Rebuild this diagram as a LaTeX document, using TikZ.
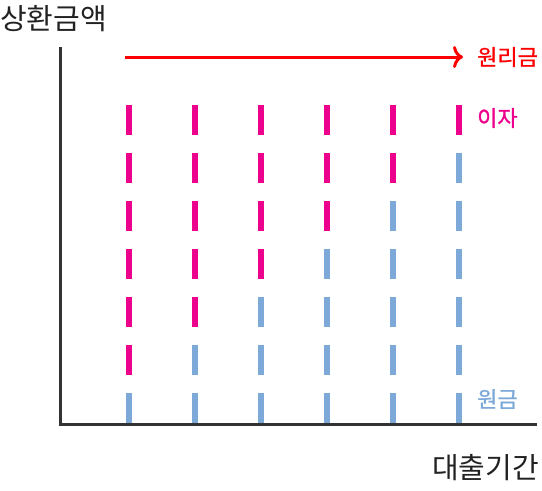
\documentclass[tikz,border=0pt]{standalone}
\usepackage{fontspec}
\setmainfont{Noto Sans CJK KR}
\newfontfamily\lblfont[FakeBold=1]{Noto Sans CJK KR}
\usetikzlibrary{arrows.meta}
\definecolor{pinkc}{HTML}{EC008C}
\definecolor{bluec}{HTML}{7CA9D8}
\definecolor{redc}{HTML}{FF0000}
\definecolor{axisc}{HTML}{333333}
\definecolor{textc}{HTML}{222222}
\tikzset{
  axisline/.style={line width=3pt, draw=axisc},
  barline/.style={line width=6pt},
  lbl/.style={anchor=west, inner sep=0pt, font=\lblfont\fontsize{22}{22}\selectfont},
  title/.style={inner sep=0pt, text=textc, font=\fontsize{29}{29}\selectfont},
}
\begin{document}
\begin{tikzpicture}[x=1pt,y=-1pt]
\useasboundingbox (0,0) rectangle (542,491);
% axes
\coordinate (ytop) at (60,47);
\coordinate (orig) at (60,424.5);
\coordinate (xend) at (537,424.5);
\draw[axisline] (ytop) -- (orig) -- (xend);
% bars
\foreach \c in {1,...,6}{
  \foreach \r in {1,...,7}{
    \pgfmathsetmacro{\xx}{63+66*\c}
    \pgfmathsetmacro{\yt}{105+48*(\r-1)}
    \pgfmathtruncatemacro{\isblue}{\r>7-\c ? 1 : 0}
    \ifnum\isblue=1 \def\bc{bluec}\else\def\bc{pinkc}\fi
    \draw[barline, draw=\bc] (\xx,\yt) -- (\xx,\yt+30);
  }
}
% arrow
\coordinate (as) at (125,57);
\coordinate (ae) at (463,57);
\draw[redc, line width=3pt, -{To[length=10pt,width=22pt,line width=3pt]}] (as) -- (ae);
% labels
\node[lbl, text=redc] (lp) at (477,57) {원리금};
\node[lbl, text=pinkc] (li) at (477,118) {이자};
\node[lbl, text=bluec] (lw) at (477,399) {원금};
\node[title, anchor=west] (ty) at (0,19) {상환금액};
\node[title, anchor=east] (tx) at (539,468) {대출기간};
\end{tikzpicture}
\end{document}
